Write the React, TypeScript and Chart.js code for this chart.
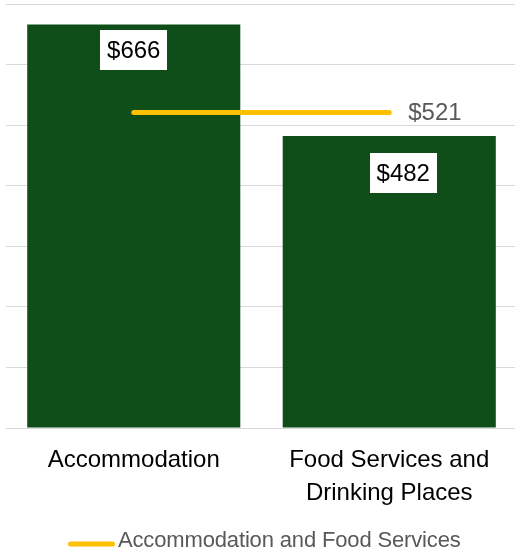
import React, { useEffect, useRef } from "react";
import { Chart, registerables } from "chart.js";

Chart.register(...registerables);

const categories: (string | string[])[] = ["Accommodation", ["Food Services and", "Drinking Places"]];
const barValues = [666, 482];
const lineValues = [521, 521];
const lineSeriesName = "Accommodation and Food Services";
const yMin = 0;
const yMax = 700;
const yStep = 100;

const FONT = "'Liberation Sans', Arial, sans-serif";
const BAR_COLOR = "#0F4E19";
const LINE_COLOR = "#FFC000";
const GRID_COLOR = "#D9D9D9";
const GRAY_TEXT = "#595959";

// label nudges relative to each bar's top-centre (style, not data)
const barLabelNudge = [
  [0, 25.5],
  [14, 37],
];

const labelPlugin = {
  id: "customLabels",
  afterDatasetsDraw(chart: any) {
    const ctx = chart.ctx;
    ctx.save();
    const barMeta = chart.getDatasetMeta(0);
    ctx.font = `24px ${FONT}`;
    ctx.textBaseline = "middle";
    ctx.textAlign = "center";
    barMeta.data.forEach((el: any, i: number) => {
      const v = chart.data.datasets[0].data[i];
      const txt = `$${v}`;
      const w = ctx.measureText(txt).width;
      const cx = el.x + barLabelNudge[i][0];
      const cy = el.y + barLabelNudge[i][1];
      const bw = w + 14;
      const bh = 40;
      ctx.fillStyle = "#FFFFFF";
      ctx.fillRect(Math.round(cx - bw / 2), Math.round(cy - bh / 2), Math.round(bw), bh);
      ctx.fillStyle = "#000000";
      ctx.fillText(txt, cx, cy + 1);
    });
    const lineMeta = chart.getDatasetMeta(1);
    const last = lineMeta.data[lineMeta.data.length - 1];
    const lv = chart.data.datasets[1].data[lineMeta.data.length - 1];
    ctx.textAlign = "left";
    ctx.fillStyle = GRAY_TEXT;
    ctx.fillText(`$${lv}`, last.x + 19, last.y + 1);
    ctx.restore();
  },
  afterDraw(chart: any) {
    const ctx = chart.ctx;
    ctx.save();
    const y = chart.height - 14;
    const x0 = chart.chartArea.left + 64.5;
    ctx.strokeStyle = LINE_COLOR;
    ctx.lineWidth = 5;
    ctx.lineCap = "round";
    ctx.beginPath();
    ctx.moveTo(x0, y);
    ctx.lineTo(x0 + 42, y);
    ctx.stroke();
    ctx.font = `22px ${FONT}`;
    ctx.fillStyle = GRAY_TEXT;
    ctx.textBaseline = "middle";
    ctx.textAlign = "left";
    ctx.letterSpacing = "-0.15px";
    ctx.fillText(lineSeriesName, x0 + 47.5, y - 3);
    ctx.restore();
  },
};

export default function App() {
  const ref = useRef<HTMLCanvasElement | null>(null);

  useEffect(() => {
    if (!ref.current) return;
    const chart = new Chart(ref.current, {
      type: "bar",
      data: {
        labels: categories,
        datasets: [
          {
            type: "bar",
            label: "Value",
            data: barValues,
            backgroundColor: BAR_COLOR,
            borderWidth: 0,
            barPercentage: 0.834,
            categoryPercentage: 1,
            order: 2,
          },
          {
            type: "line",
            label: lineSeriesName,
            data: lineValues,
            borderColor: LINE_COLOR,
            backgroundColor: LINE_COLOR,
            borderWidth: 5,
            borderCapStyle: "round",
            pointRadius: 0,
            order: 1,
          } as any,
        ],
      },
      options: {
        responsive: false,
        animation: false,
        devicePixelRatio: 1,
        layout: { padding: { left: 6, right: 0, top: 4, bottom: 32 } },
        plugins: {
          legend: { display: false },
          tooltip: { enabled: false },
        },
        scales: {
          x: {
            grid: { display: false, drawTicks: false },
            border: { display: true, color: GRID_COLOR, width: 1 },
            ticks: {
              color: "#000000",
              padding: 16,
              maxRotation: 0,
              autoSkip: false,
              font: { family: FONT, size: 24, lineHeight: 1.375 },
            },
          },
          y: {
            min: yMin,
            max: yMax,
            ticks: { display: false, stepSize: yStep },
            grid: { color: GRID_COLOR, lineWidth: 1, drawTicks: false },
            border: { display: false },
          },
        },
      },
      plugins: [labelPlugin],
    });
    return () => chart.destroy();
  }, []);

  return (
    <div
      style={{
        position: "fixed",
        left: 0,
        top: 0,
        width: 515,
        height: 558,
        overflow: "hidden",
        background: "#FFFFFF",
      }}
    >
      <canvas ref={ref} width={517} height={558} style={{ display: "block" }} />
    </div>
  );
}
